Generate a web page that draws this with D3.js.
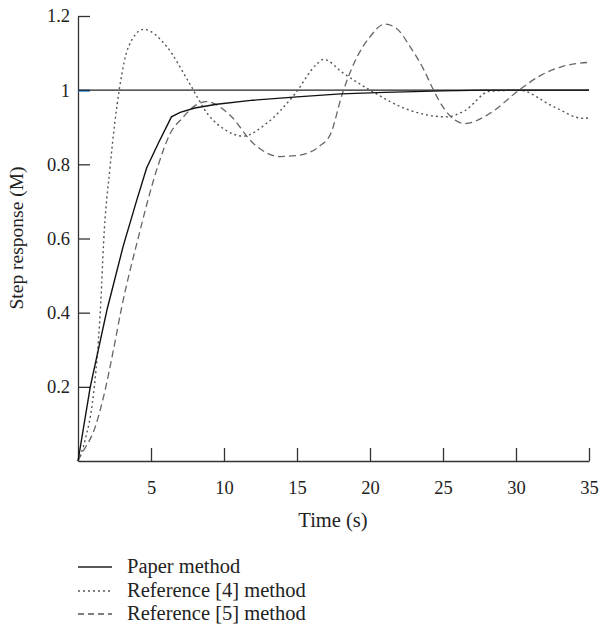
<!DOCTYPE html>
<html>
<head>
<meta charset="utf-8">
<script src="https://cdn.jsdelivr.net/npm/d3@7"></script>
<style>
  html, body { margin: 0; padding: 0; background: #fff; }
  svg { display: block; font-family: "Liberation Serif", "DejaVu Serif", serif; }
</style>
</head>
<body>
<svg id="chart" width="600" height="644"></svg>
<script>
// ---- Data ----
const paperT = [0, 0.84, 2.0, 3.1, 4.0, 4.7, 5.5, 6.4, 7.0, 8.0, 9.5, 12, 15, 18, 21, 25, 28, 30, 35];
const paperV = [0, 0.20, 0.41, 0.58, 0.70, 0.79, 0.857, 0.928, 0.94, 0.952, 0.962, 0.973, 0.982, 0.99, 0.994, 0.998, 1.0, 1.0, 1.0];

const ref4T = [0, 0.49, 1.06, 1.4, 1.57, 1.75, 2.2, 2.84, 3.46, 4.49, 6.09, 7.57, 8.94, 10.0, 11.3, 12.9, 14.8, 16.4, 16.8, 18.2, 20.0, 22.7, 25.2, 26.5, 28.2, 30.2, 32.6, 34.6, 35];
const ref4V = [0, 0.057, 0.18, 0.326, 0.434, 0.587, 0.794, 1.005, 1.117, 1.164, 1.117, 1.023, 0.933, 0.895, 0.876, 0.91, 0.987, 1.072, 1.083, 1.045, 1.0, 0.946, 0.928, 0.945, 0.997, 1.0, 0.955, 0.924, 0.925];

const ref5T = [0, 0.15, 1.18, 1.75, 2.43, 3.0, 4.03, 5.51, 6.3, 7.2, 7.9, 8.83, 10.4, 12.0, 13.8, 15.2, 16.5, 17.3, 18.1, 18.9, 20.0, 21.0, 21.8, 22.75, 23.7, 24.35, 25.15, 26.5, 28.2, 30.2, 31.7, 33.1, 35];
const ref5V = [0, 0.012, 0.092, 0.173, 0.30, 0.416, 0.587, 0.80, 0.882, 0.927, 0.955, 0.969, 0.933, 0.857, 0.821, 0.825, 0.848, 0.882, 0.99, 1.072, 1.144, 1.178, 1.167, 1.117, 1.054, 1.0, 0.946, 0.91, 0.937, 1.0, 1.04, 1.063, 1.075];

const setpointT = [0, 35];
const setpointV = [1, 1];

const xTicks = [5, 10, 15, 20, 25, 30, 35];
const yTicks = [0.2, 0.4, 0.6, 0.8, 1, 1.2];
const legendLabels = ["Paper method", "Reference [4] method", "Reference [5] method"];

// ---- Layout ----
const svg = d3.select("#chart");
const x = d3.scaleLinear().domain([0, 35]).range([78, 589]);
const y = d3.scaleLinear().domain([0, 1.2]).range([461, 16]);

const zip = (ts, vs) => ts.map((t, i) => [t, vs[i]]);
const line = d3.line().x(d => x(d[0])).y(d => y(d[1])).curve(d3.curveMonotoneX);
const lineLin = d3.line().x(d => x(d[0])).y(d => y(d[1]));

// Axes
const xAxis = d3.axisBottom(x).tickValues(xTicks).tickSizeInner(-13).tickSizeOuter(0).tickPadding(26).tickFormat(d3.format("d"));
const gx = svg.append("g").attr("transform", `translate(0,${y(0)})`).call(xAxis);
const yAxis = d3.axisLeft(y).tickValues(yTicks).tickSizeInner(-12).tickSizeOuter(0).tickPadding(20).tickFormat(d => d === 1 ? "1" : d3.format(".1f")(d));
const gy = svg.append("g").attr("transform", `translate(${x(0)},0)`).call(yAxis);

[gx, gy].forEach(g => {
  g.select(".domain").attr("stroke", "#333").attr("stroke-width", 1.3);
  g.selectAll(".tick line").attr("stroke", "#333").attr("stroke-width", 1.3);
  g.selectAll(".tick text").attr("fill", "#222").style("font-size", "18.5px").style("font-family", "Liberation Serif, serif");
});
gy.selectAll(".tick text").attr("x", -8);
gx.selectAll(".tick text").attr("y", 20);
// blue mark at y=1 tick
gy.selectAll(".tick").filter(d => d === 1).select("line").attr("stroke", "#1f77c4").attr("stroke-width", 2);

// Setpoint line
svg.append("path").datum(zip(setpointT, setpointV)).attr("d", lineLin)
  .attr("fill", "none").attr("stroke", "#222").attr("stroke-width", 1.3);

// Series
svg.append("path").datum(zip(ref5T, ref5V)).attr("d", line)
  .attr("fill", "none").attr("stroke", "#666").attr("stroke-width", 1.3).attr("stroke-dasharray", "7,4");
svg.append("path").datum(zip(ref4T, ref4V)).attr("d", line)
  .attr("fill", "none").attr("stroke", "#555").attr("stroke-width", 1.4).attr("stroke-dasharray", "2,3");
svg.append("path").datum(zip(paperT, paperV)).attr("d", lineLin)
  .attr("fill", "none").attr("stroke", "#111").attr("stroke-width", 1.4);

// Axis labels
svg.append("text").attr("x", 333).attr("y", 527).attr("text-anchor", "middle")
  .style("font-size", "20.5px").attr("fill", "#222").text("Time (s)");
svg.append("text").attr("transform", `translate(23,238) rotate(-90)`).attr("text-anchor", "middle")
  .style("font-size", "19.5px").attr("fill", "#222").text("Step response (M)");

// Legend
const styles = [
  { stroke: "#222", dash: null },
  { stroke: "#555", dash: "2,3" },
  { stroke: "#555", dash: "6,4" }
];
const ly = [567, 591, 614];
legendLabels.forEach((lab, i) => {
  svg.append("line").attr("x1", 78).attr("x2", 112).attr("y1", ly[i]).attr("y2", ly[i])
    .attr("stroke", styles[i].stroke).attr("stroke-width", 1.3).attr("stroke-dasharray", styles[i].dash);
  svg.append("text").attr("x", 127).attr("y", ly[i] + 6).style("font-size", "20.5px")
    .attr("fill", "#222").text(lab);
});
</script>
</body>
</html>
